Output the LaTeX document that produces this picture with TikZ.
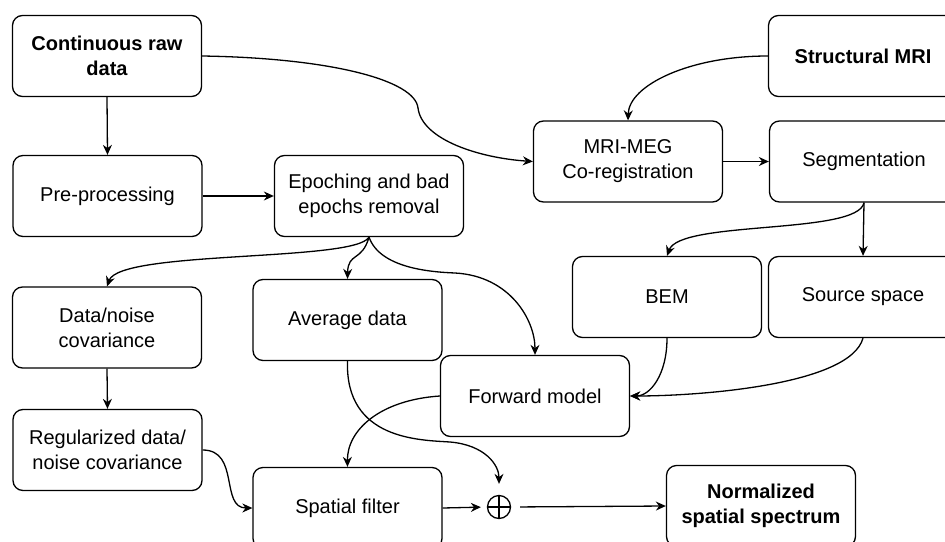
\documentclass[tikz,border=0pt]{standalone}
\usepackage{fontspec}
\setmainfont{Liberation Sans}
\usetikzlibrary{arrows.meta}
\begin{document}
\begin{tikzpicture}[x=1pt,y=-1pt,
  box/.style={draw, rounded corners=10pt, minimum width=189pt, minimum height=81pt, inner sep=2pt, align=center, font=\fontsize{20}{25}\selectfont, line width=1.3pt},
  bbox/.style={box, font=\fontsize{20}{25}\selectfont\bfseries},
  conn/.style={line width=1.3pt, -{Stealth[length=10pt,width=9pt]}}]
\useasboundingbox (0,0) rectangle (945,541);
\fill[white] (0,0) rectangle (945,541);
\node[bbox] (raw) at (107,56) {Continuous raw\\data};
\node[box] (pre) at (107.5,196) {Pre-processing};
\node[box] (epo) at (369,196) {Epoching and bad\\epochs removal};
\node[bbox] (smri) at (863,56) {Structural MRI};
\node[box] (coreg) at (628,161.5) {MRI-MEG\\Co-registration};
\node[box] (seg) at (864,161.5) {Segmentation};
\node[box] (bem) at (667,297) {BEM};
\node[box] (src) at (863,297) {Source space};
\node[box] (dncov) at (107,327.5) {Data/noise\\covariance};
\node[box] (avg) at (347.5,320) {Average data};
\node[box] (fwd) at (535,396) {Forward model};
\node[box] (reg) at (107.5,450) {Regularized data/\\noise covariance};
\node[box] (sf) at (347.5,508) {Spatial filter};
\node[bbox] (norm) at (761,506) {Normalized\\spatial spectrum};
\node[circle, draw, line width=1.3pt, minimum size=23pt, inner sep=0pt,
  path picture={\draw[line width=1.3pt] (path picture bounding box.north) -- (path picture bounding box.south)
    (path picture bounding box.west) -- (path picture bounding box.east);}] (op) at (499,507) {};

\draw[conn] (raw.south) -- (pre.north);
\draw[conn] (pre.east) -- (epo.west);
\draw[conn] (raw.east) .. controls (330,58) and (415,80) .. (418,108) .. controls (422,140) and (480,158) .. (coreg.west);
\draw[conn] (smri.west) .. controls (690,56) and (629,85) .. (coreg.north);
\draw[conn] (coreg.east) -- (seg.west);
\draw[conn] (seg.south) .. controls (858,235) and (680,220) .. (bem.north);
\draw[conn] (seg.south) -- (src.north);
\draw[conn] (epo.south) .. controls (355,262) and (120,250) .. (dncov.north);
\draw[conn] (epo.south) .. controls (362,262) and (348,252) .. (avg.north);
\draw[conn] (epo.south) .. controls (380,268) and (430,272) .. (455,273) .. controls (510,276) and (535,320) .. (fwd.north);
\draw[conn] (bem.south) .. controls (667,375) and (650,396) .. (fwd.east);
\draw[conn] (src.south) .. controls (850,385) and (700,396) .. (fwd.east);
\draw[conn] (dncov.south) -- (reg.north);
\draw[conn] (reg.east) .. controls (240,450) and (220,508) .. (sf.west);
\draw[conn] (fwd.west) .. controls (380,400) and (347,430) .. (sf.north);
\draw[conn, shorten >=11pt] (avg.south) .. controls (345,440) and (420,440) .. (450,442) .. controls (485,445) and (499,465) .. (op.north);
\draw[conn, shorten >=6pt] (sf.east) -- (op.west);
\draw[conn, shorten <=9pt] (op.east) -- (norm.west);
\end{tikzpicture}
\end{document}
